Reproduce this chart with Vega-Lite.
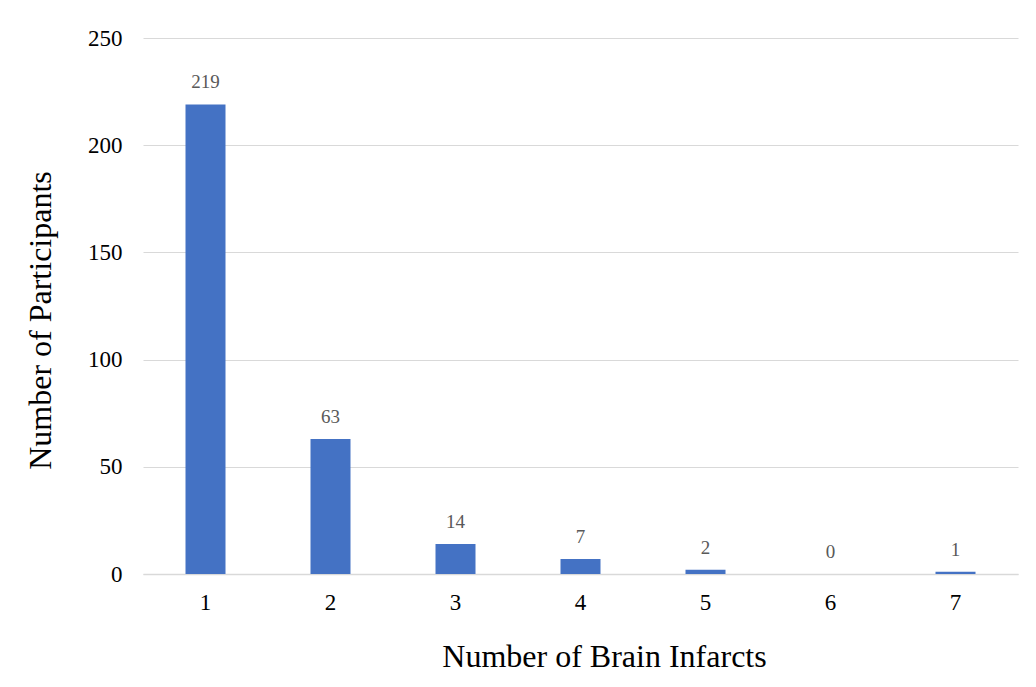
{
  "$schema": "https://vega.github.io/schema/vega-lite/v6.json",
  "width": 875,
  "height": 536,
  "autosize": {"type": "none"},
  "padding": {"left": 143, "top": 38, "right": 18, "bottom": 113},
  "background": "white",
  "config": {
    "view": {"stroke": null},
    "font": "Liberation Serif"
  },
  "data": {
    "values": [
      {"infarcts": "1", "participants": 219},
      {"infarcts": "2", "participants": 63},
      {"infarcts": "3", "participants": 14},
      {"infarcts": "4", "participants": 7},
      {"infarcts": "5", "participants": 2},
      {"infarcts": "6", "participants": 0},
      {"infarcts": "7", "participants": 1}
    ]
  },
  "encoding": {
    "x": {
      "field": "infarcts",
      "type": "ordinal",
      "scale": {"paddingInner": 0.68, "paddingOuter": 0.34},
      "axis": {
        "title": "Number of Brain Infarcts",
        "labelAngle": 0,
        "labelFont": "Liberation Serif",
        "labelFontSize": 23,
        "labelColor": "#000000",
        "labelPadding": 17,
        "ticks": false,
        "domainColor": "#d9d9d9",
        "domainWidth": 1.5,
        "titleFont": "Liberation Serif",
        "titleFontSize": 32,
        "titleFontWeight": "normal",
        "titleColor": "#000000",
        "titlePadding": 27,
        "titleX": 461
      }
    },
    "y": {
      "field": "participants",
      "type": "quantitative",
      "scale": {"domain": [0, 250]},
      "axis": {
        "title": "Number of Participants",
        "values": [0, 50, 100, 150, 200, 250],
        "labelFont": "Liberation Serif",
        "labelFontSize": 23,
        "labelColor": "#000000",
        "labelPadding": 21,
        "ticks": false,
        "domain": false,
        "gridColor": "#d9d9d9",
        "gridWidth": 1.2,
        "titleFont": "Liberation Serif",
        "titleFontSize": 32,
        "titleFontWeight": "normal",
        "titleColor": "#000000",
        "titlePadding": 30,
        "titleY": 282
      }
    }
  },
  "layer": [
    {"mark": {"type": "bar", "color": "#4472C4"}},
    {
      "mark": {
        "type": "text",
        "baseline": "alphabetic",
        "dy": -16,
        "font": "Liberation Serif",
        "fontSize": 19,
        "color": "#595959"
      },
      "encoding": {"text": {"field": "participants", "type": "quantitative"}}
    }
  ]
}
